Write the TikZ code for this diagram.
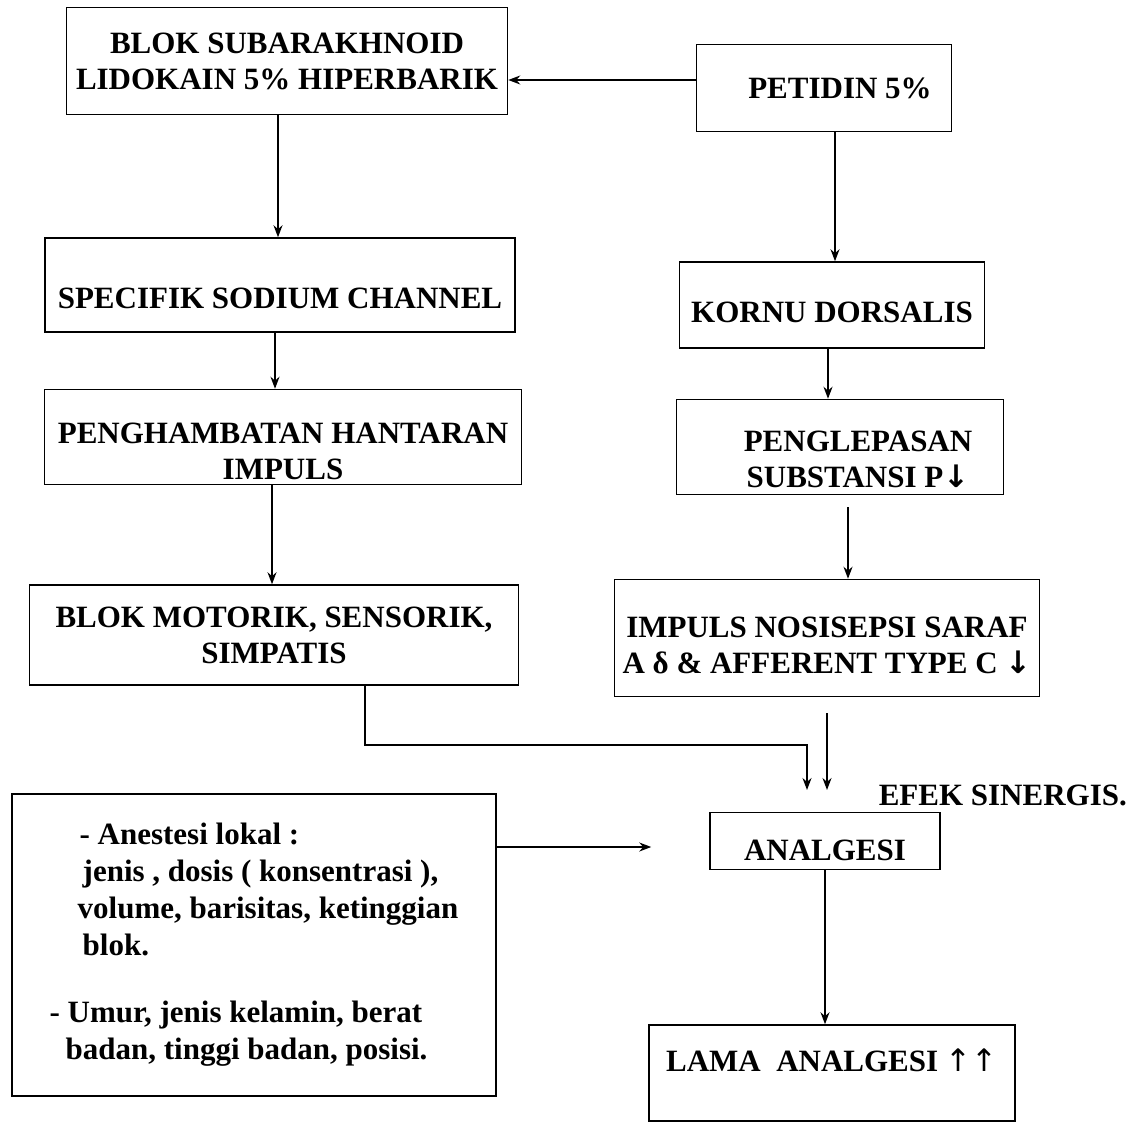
\documentclass[tikz,border=0pt]{standalone}
\usepackage{fontspec}
\setmainfont{Liberation Serif}
\newfontfamily\panah{DejaVu Sans}
\usetikzlibrary{arrows.meta}

\begin{document}
\begin{tikzpicture}[x=1pt, y=-1pt, >={Stealth[length=12pt,width=9pt]}, line width=1.5pt,
	box/.style={draw, align=center, inner sep=0pt, font=\bfseries\fontsize{31}{36}\selectfont},
	plain/.style={inner sep=0pt, font=\bfseries\fontsize{31}{36}\selectfont}]
	\useasboundingbox (0,0) rectangle (1131,1123);
	% kolom kiri: lidokain
	\node[box, minimum width=441pt, minimum height=107pt] (blok) at (287,61) {BLOK SUBARAKHNOID\\LIDOKAIN 5\% HIPERBARIK};
	\node[box, minimum width=470pt, minimum height=94pt] (spesifik) at (280,285) {\rule{0pt}{47pt}SPECIFIK SODIUM CHANNEL};
	\node[box, minimum width=477pt, minimum height=95pt] (hambat) at (283,437) {\rule{0pt}{49pt}PENGHAMBATAN HANTARAN\\IMPULS};
	\node[box, minimum width=489pt, minimum height=100pt] (motorik) at (274,635) {BLOK MOTORIK, SENSORIK,\\SIMPATIS};
	% kolom kanan: petidin
	\node[box, minimum width=255pt, minimum height=87pt] (petidin) at (824,88) {\hspace*{32pt}PETIDIN 5\%};
	\node[box, minimum width=305pt, minimum height=86pt] (kornu) at (832,305) {\rule{0pt}{35pt}KORNU DORSALIS};
	\node[box, minimum width=327pt, minimum height=95pt] (lepas) at (840,447) {\rule{0pt}{45pt}\hspace*{36pt}PENGLEPASAN\\\hspace*{36pt}SUBSTANSI P{\panah ↓}};
	\node[box, minimum width=425pt, minimum height=117pt] (impuls) at (827,638) {\rule{0pt}{35pt}IMPULS NOSISEPSI SARAF\\A δ \& AFFERENT TYPE C {\panah ↓}};
	% bawah
	\node[box, minimum width=230pt, minimum height=57pt] (analgesi) at (825,841) {\rule{0pt}{39pt}ANALGESI};
	\node[box, minimum width=366pt, minimum height=96pt] (lama) at (832,1073) {\rule[-26pt]{0pt}{26pt}LAMA\ \ ANALGESI {\mdseries\panah ↑↑}};
	\node[box, align=left, minimum width=484pt, minimum height=302pt, font=\bfseries\fontsize{31}{37}\selectfont] (faktor) at (254,945)
	{\hspace*{30pt}- Anestesi lokal :\\
	 \hspace*{33pt}jenis , dosis ( konsentrasi ),\\
	 \hspace*{28pt}volume, barisitas, ketinggian\\
	 \hspace*{33pt}blok.\\[30pt]
	 - Umur, jenis kelamin, berat\\
	 \hspace*{16pt}badan, tinggi badan, posisi.};
	\node[plain, anchor=west] (efek) at (878,795) {EFEK SINERGIS.};
	\coordinate (gabung) at (816,790);
	% panah
	\draw[->] ([yshift=8pt]petidin.west) -- ([yshift=8pt]petidin.west -| blok.east);
	\draw[->] ([xshift=-9pt]blok.south) -- ([xshift=-9pt]blok.south |- spesifik.north);
	\draw[->] ([xshift=-5pt]spesifik.south) -- ([xshift=-5pt]spesifik.south |- hambat.north);
	\draw[->] ([xshift=-11pt]hambat.south) -- ([xshift=-11pt]hambat.south |- motorik.north);
	\draw[->] ([xshift=11pt]petidin.south) -- ([xshift=11pt]petidin.south |- kornu.north);
	\draw[->] ([xshift=-4pt]kornu.south) -- ([xshift=-4pt]kornu.south |- lepas.north);
	\draw[->] ([xshift=8pt,yshift=-12pt]lepas.south) -- ([xshift=8pt]lepas.south |- impuls.north);
	\draw[->] ([xshift=91pt]motorik.south) |- ([xshift=-9pt,yshift=45pt]gabung) -- ([xshift=-9pt]gabung);
	\draw[->] ([yshift=-16pt]impuls.south) -- (impuls.south |- gabung);
	\draw[->] ([yshift=98pt]faktor.east) -- ([yshift=98pt,xshift=-58pt]faktor.east -| analgesi.west);
	\draw[->] (analgesi.south) -- (analgesi.south |- lama.north);
\end{tikzpicture}
\end{document}
